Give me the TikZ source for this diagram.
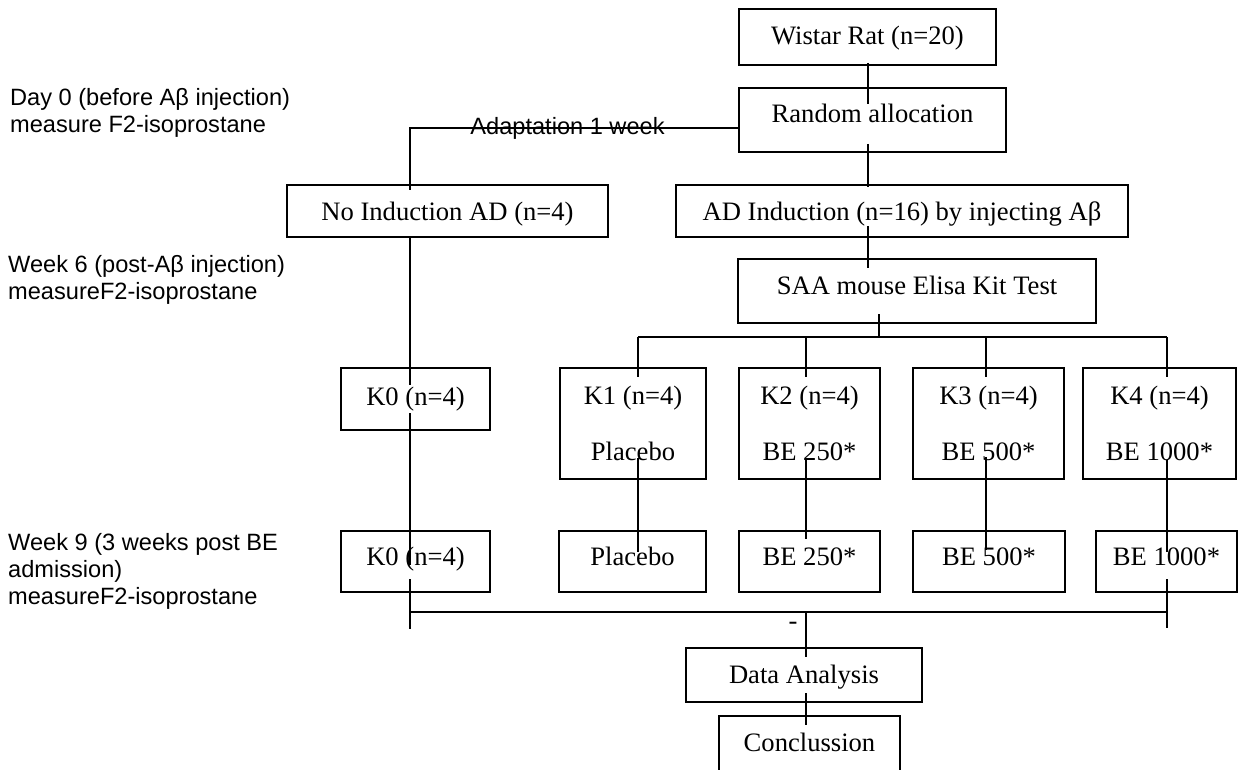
\documentclass[tikz,border=0pt]{standalone}
\usepackage{fontspec}
\setmainfont{Liberation Serif}
\newfontfamily\arialf{Liberation Sans}
\usetikzlibrary{calc}
\newcommand\flowbox[8]{%
  \node[box, minimum width={#4-#2}, minimum height={#5-#3}, text height=#6pt, text depth=#7pt] (#1) at ({(#2+#4)/2},{(#3+#5)/2}) {#8};}
\newcommand\twoline[2]{\begin{tabular}[t]{@{}c@{}}#1\\#2\end{tabular}}
\begin{document}
\begin{tikzpicture}[x=1pt,y=-1pt,
  box/.style={draw, line width=1.5pt, inner sep=0pt, outer sep=0pt, font=\fontsize{26.6}{56}\selectfont},
  lab/.style={anchor=base west, inner sep=0pt, font=\arialf\fontsize{23.6}{27}\selectfont},
  midlab/.style={anchor=base, inner sep=0pt, font=\arialf\fontsize{23.6}{27}\selectfont},
  minuslab/.style={anchor=base, inner sep=0pt, font=\fontsize{26.6}{30}\selectfont},
  con/.style={line width=1.5pt}]
\useasboundingbox (0,0) rectangle (1238,770);
\clip (0,0) rectangle (1238,770);

% column coordinates
\coordinate (lx) at (410,0);
\coordinate (mx) at (868,0);
\coordinate (br) at (879,337);
\coordinate (b1) at (638,337);
\coordinate (b2) at (806,337);
\coordinate (b3) at (986,337);
\coordinate (b4) at (1167,337);
\coordinate (jn) at (806,612);

% boxes
\flowbox{wistar}{739}{9}{996}{65}{16}{0}{Wistar Rat (n=20)}
\flowbox{random}{739}{88}{1006}{152}{6}{0}{Random allocation}
\flowbox{noind}{287}{185}{608}{237}{18}{0}{No Induction AD (n=4)}
\flowbox{adind}{676}{185}{1128}{237}{19}{0}{AD Induction (n=16) by injecting Aβ}
\flowbox{saa}{738}{259}{1096}{323}{6}{0}{SAA mouse Elisa Kit Test}
\flowbox{k0a}{341}{368}{490}{430}{12}{0}{K0 (n=4)}
\flowbox{k1a}{560}{368}{706}{479}{0}{39}{\twoline{K1 (n=4)}{Placebo}}
\flowbox{k2a}{739}{368}{880}{479}{0}{39}{\twoline{K2 (n=4)}{BE 250*}}
\flowbox{k3a}{913}{368}{1064}{479}{0}{39}{\twoline{K3 (n=4)}{BE 500*}}
\flowbox{k4a}{1083}{368}{1236}{479}{0}{39}{\twoline{K4 (n=4)}{BE 1000*}}
\flowbox{k0b}{341}{531}{490}{592}{7}{0}{K0 (n=4)}
\flowbox{k1b}{559}{531}{706}{592}{7}{0}{Placebo}
\flowbox{k2b}{739}{531}{880}{592}{7}{0}{BE 250*}
\flowbox{k3b}{913}{531}{1065}{592}{7}{0}{BE 500*}
\flowbox{k4b}{1096}{531}{1237}{592}{7}{0}{BE 1000*}
\flowbox{data}{686}{648}{922}{702}{16}{0}{Data Analysis}
\flowbox{concl}{719}{716}{900}{800}{0}{14}{Conclussion}

% left labels
\node[lab] (day0) at (10,106) {\begin{tabular}[t]{@{}l@{}}Day 0 (before Aβ injection)\\measure F2-isoprostane\end{tabular}};
\node[lab] (week6) at (8,272) {\begin{tabular}[t]{@{}l@{}}Week 6 (post-Aβ injection)\\measureF2-isoprostane\end{tabular}};
\node[lab] (week9) at (8,550) {\begin{tabular}[t]{@{}l@{}}Week 9 (3 weeks post BE\\admission)\\measureF2-isoprostane\end{tabular}};

% connectors
\draw[con] ($(wistar.south -| mx)+(0,-2)$) -- ($(random.north -| mx)+(0,16)$);
\draw[con] ($(random.south -| mx)+(0,-8)$) -- ($(adind.north -| mx)+(0,2)$);
\draw[con] ($(random.west)+(-1,8)$) -| ($(noind.north -| lx)+(0,5)$);
\node[midlab] (adapt) at (567.5,135) {Adaptation 1 week};
\draw[con] (noind.south -| lx) -- ($(k0a.north -| lx)+(0,17)$);
\draw[con] ($(k0a.south -| lx)+(0,-17)$) -- ($(k0b.north -| lx)+(0,34)$);
\draw[con] ($(k0b.south -| lx)+(0,-13)$) -- ($(k0b.south -| lx)+(0,37)$);
\draw[con] ($(adind.south -| mx)+(0,-11)$) -- ($(saa.north -| mx)+(0,9)$);
\draw[con] ($(saa.south -| br)+(0,-9)$) -- (br);
\draw[con] (b1) -- (b4);
\draw[con] (b1) -- ($(k1a.north -| b1)+(0,9)$);
\draw[con] (b2) -- ($(k2a.north -| b2)+(0,9)$);
\draw[con] (b3) -- ($(k3a.north -| b3)+(0,9)$);
\draw[con] (b4) -- ($(k4a.north -| b4)+(0,9)$);
\draw[con] ($(k1a.south -| b1)+(0,-21)$) -- ($(k1b.north -| b1)+(0,21)$);
\draw[con] ($(k2a.south -| b2)+(0,-20)$) -- ($(k2b.north -| b2)+(0,8)$);
\draw[con] ($(k3a.south -| b3)+(0,-22)$) -- ($(k3b.north -| b3)+(0,19)$);
\draw[con] ($(k4a.south -| b4)+(0,-19)$) -- ($(k4b.north -| b4)+(0,21)$);
\draw[con] ($(k4b.south -| b4)+(0,-13)$) -- ($(k4b.south -| b4)+(0,36)$);
\draw[con] (jn -| lx) -- (jn -| b4);
\draw[con] (jn) -- ($(data.north -| jn)+(0,9)$);
\node[minuslab] (minus) at (793,629) {-};
\draw[con] ($(data.south -| jn)+(0,-9)$) -- ($(concl.north -| jn)+(0,9)$);
\end{tikzpicture}
\end{document}
